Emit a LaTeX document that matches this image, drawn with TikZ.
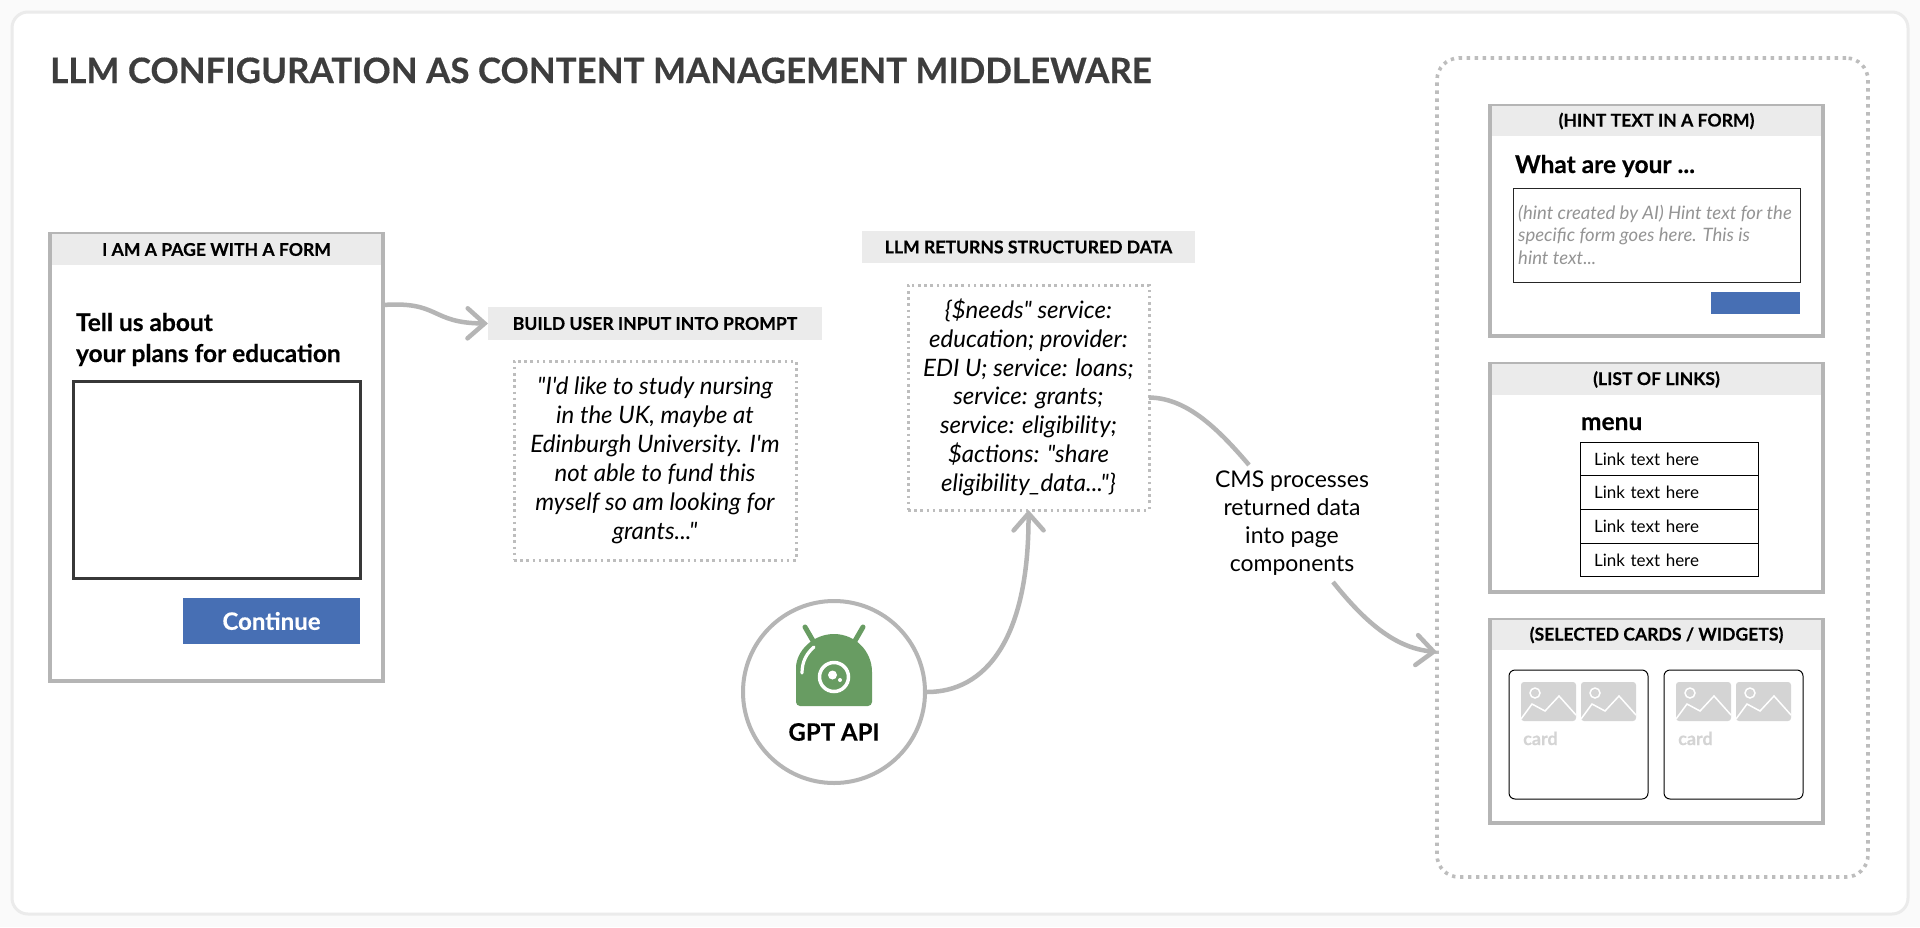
\documentclass[tikz,border=0pt]{standalone}
\usepackage{fontspec}
\newfontfamily\latofont{Lato}[BoldFeatures={FakeBold=0.35}]
\usepackage{xcolor}
\usetikzlibrary{arrows.meta}
\usetikzlibrary{positioning}
\definecolor{framegray}{HTML}{B5B5B5}
\definecolor{headgray}{HTML}{EBEBEB}
\definecolor{dotgray}{HTML}{BDBDBD}
\definecolor{btnblue}{HTML}{476FB4}
\definecolor{robotgreen}{HTML}{689C62}
\definecolor{cardgray}{HTML}{D4D4D4}
\newcommand{\fsize}[1]{\latofont\fontsize{#1}{#1}\selectfont}
\tikzset{
    box/.style = {rectangle, inner sep=0pt, outer sep=0pt, anchor=north west},
    pagebox/.style = {box, draw=framegray, fill=white, line width=4pt},
    headbar/.style = {rectangle, inner sep=0pt, outer sep=0pt, fill=headgray, font=\bfseries\fsize{17.6}, text=black},
    dotbox/.style = {rectangle, inner sep=0pt, outer sep=0pt, draw=dotgray, line width=3pt, dash pattern=on 2.6pt off 3.6pt, fill=white, align=center, font=\itshape\fsize{24}, text=black},
    heading/.style = {inner sep=0pt, outer sep=0pt, anchor=base west, font=\bfseries\fsize{24.5}, text=black},
    hinttext/.style = {inner sep=0pt, anchor=base west, font=\itshape\fsize{18.5}, text=black!42},
    flow/.style = {draw=framegray, line width=4.5pt},
    arrowed/.style = {flow, -{Straight Barb[length=17pt,width=30pt,line cap=round]}},
    btn/.style = {box, fill=btnblue},
    linkrow/.style = {rectangle, inner sep=0pt, outer sep=0pt, draw=black, line width=1pt, minimum width=178pt, minimum height=33.7pt, text width=150pt, font=\fsize{17}, text=black},
    cardbox/.style = {box, draw=black, line width=1pt, rounded corners=6pt, minimum width=139pt, minimum height=129pt},
    imgbox/.style = {box, fill=cardgray, rounded corners=3pt, minimum width=55pt, minimum height=39pt},
    imgline/.style = {draw=white, line width=1.5pt}
}
\begin{document}
\begin{tikzpicture}[x=1pt, y=-1pt]
    \useasboundingbox [fill=black!2] (0,0) rectangle (1920,927);
    \draw [fill=white, draw=black!8, line width=3pt, rounded corners=16pt] (12,12) rectangle (1908,914);

    \node [inner sep=0pt, anchor=base west, font=\bfseries\fsize{34.9}, text=black!76] (title) at (50,83) {LLM CONFIGURATION AS CONTENT MANAGEMENT MIDDLEWARE};

    % form page
    \node [pagebox, minimum width=333pt, minimum height=447pt] (formpage) at (50,234) {};
    \node [headbar, anchor=north, minimum width=329pt, minimum height=31pt] (formhead) at (formpage.north) {I AM A PAGE WITH A FORM};
    \node [heading] (formq1) at (76,331) {Tell us about};
    \node [heading] (formq2) at (76,362) {your plans for education};
    \node [box, draw=black!78, fill=white, line width=3pt, minimum width=287pt, minimum height=197pt] (formfield) at (73,381) {};
    \node [btn, minimum width=177pt, minimum height=46pt, text=white, font=\bfseries\fsize{24}] (formbtn) at (183,598) {Continue};

    % prompt
    \node [headbar, anchor=north west, minimum width=334pt, minimum height=33pt] (prompthead) at (488,307) {BUILD USER INPUT INTO PROMPT};
    \node [dotbox, box, minimum width=282pt, minimum height=199pt] (prompt) at (514,361) {"I'd like to study nursing\\[5.1pt]in the UK, maybe at\\[5.1pt]Edinburgh University. I'm\\[5.1pt]not able to fund this\\[5.1pt]myself so am looking for\\[5.1pt]grants..."};

    % returned data
    \node [headbar, anchor=north west, minimum width=333pt, minimum height=32pt] (datahead) at (862,231) {LLM RETURNS STRUCTURED DATA};
    \node [dotbox, box, minimum width=241pt, minimum height=225pt] (data) at (908,285) {\{\$needs" service:\\[4.6pt]education; provider:\\[4.6pt]EDI U; service: loans;\\[4.6pt]service: grants;\\[4.6pt]service: eligibility;\\[4.6pt]\$actions: "share\\[4.6pt]eligibility\_data..."\}};

    % gpt
    \node [circle, draw=framegray, fill=white, line width=4pt, minimum size=182pt, inner sep=0pt, outer sep=2pt] (gpt) at (834,692) {};
    \fill [robotgreen] (796,672) .. controls (796,651) and (813,634) .. (834,634) .. controls (855,634) and (872,651) .. (872,672) [rounded corners=4pt] -- (872,706) -- (796,706) -- cycle;
    \draw [robotgreen, line width=5pt, line cap=round] (805,627) -- (816,646) (863,627) -- (852,646);
    \draw [white, line width=3.2pt, line cap=round] (802,673) .. controls (802,661) and (807,653) .. (814,647);
    \draw [white, line width=3.5pt] (834,677) circle [radius=14.5pt];
    \fill [white] (832.5,675) circle [radius=4.5pt] (840,680) circle [radius=2pt];
    \node [inner sep=0pt, font=\bfseries\fsize{24}, text=black] (gptlabel) at (834,732) {GPT API};

    % result column
    \node [box, draw=dotgray, line width=3.6pt, dash pattern=on 3.4pt off 4.6pt, rounded corners=22pt, minimum width=431pt, minimum height=819pt] (result) at (1437,58) {};

    \node [pagebox, minimum width=333pt, minimum height=230pt] (hintpage) at (1490,106) {};
    \node [headbar, anchor=north, minimum width=329pt, minimum height=30pt] (hinthead) at (hintpage.north) {(HINT TEXT IN A FORM)};
    \node [heading] (hintq) at (1515,173) {What are your ...};
    \node [box, draw=black!85, line width=0.9pt, minimum width=287pt, minimum height=94pt] (hintfield) at (1513,188) {};
    \node [hinttext] (hint1) at (1518,219) {(hint created by AI) Hint text for the};
    \node [hinttext] (hint2) at (1518,241.5) {specific form goes here. This is};
    \node [hinttext] (hint3) at (1518,264) {hint text...};
    \node [btn, minimum width=89pt, minimum height=22pt] (hintbtn) at (1711,292) {};

    \node [pagebox, minimum width=333pt, minimum height=228pt] (linkpage) at (1490,364) {};
    \node [headbar, anchor=north, minimum width=329pt, minimum height=31pt] (linkhead) at (linkpage.north) {(LIST OF LINKS)};
    \node [heading] (menu) at (1581,430) {menu};
    \node [linkrow, anchor=north west] (link1) at (1580,442) {Link text here};
    \node [linkrow, below=0pt of link1] (link2) {Link text here};
    \node [linkrow, below=0pt of link2] (link3) {Link text here};
    \node [linkrow, below=0pt of link3] (link4) {Link text here};

    \node [pagebox, minimum width=333pt, minimum height=203pt] (cardpage) at (1490,620) {};
    \node [headbar, anchor=north, minimum width=329pt, minimum height=30pt] (cardhead) at (cardpage.north) {(SELECTED CARDS / WIDGETS)};
    \foreach \cardx/\cardname in {1509/carda, 1664/cardb} {
        \node [cardbox] (\cardname) at (\cardx,670) {};
        \node [inner sep=0pt, anchor=base west, font=\bfseries\fsize{18}, text=cardgray] (\cardname label) at (\cardx+14,745) {card};
        \foreach \imgx/\imgname in {12/l, 72/r} {
            \node [imgbox] (\cardname\imgname) at (\cardx+\imgx,682) {};
            \begin{scope}[shift={(\cardx+\imgx,682)}]
                \draw [imgline] (14,11) circle [radius=5pt];
                \draw [imgline] (0,37) -- (11,22) -- (24,29) -- (38,14) -- (55,33);
            \end{scope}
        }
    }

    % connectors
    \coordinate (formout) at (formpage.east |- 0,305);
    \coordinate (cmsin) at (1249,465);
    \coordinate (cmsout) at (1333,582);
    \coordinate (resultin) at (1437,652);
    \node [inner sep=0pt, align=center, font=\fsize{23}, text=black] (cms) at (1292,523) {CMS processes\\[4.8pt]returned data\\[4.8pt]into page\\[4.8pt]components};
    \draw [arrowed] (formout) .. controls (440,301) and (430,323) .. (prompthead.west);
    \draw [arrowed] (gpt.east) .. controls (985,692) and (1029,640) .. (data.south);
    \draw [flow] (data.east) .. controls (1185,398) and (1215,425) .. (cmsin);
    \draw [arrowed] (cmsout) .. controls (1365,622) and (1395,648) .. (resultin);
\end{tikzpicture}
\end{document}
